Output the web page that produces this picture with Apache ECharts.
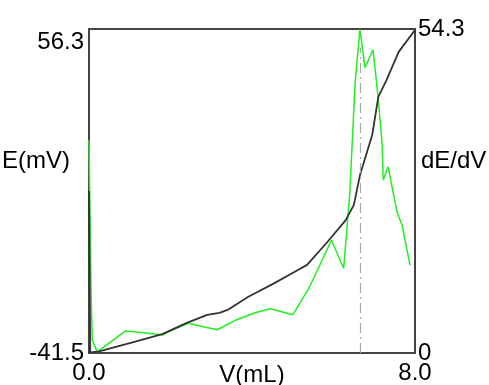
<!DOCTYPE html>
<html>
<head>
<meta charset="utf-8">
<script src="https://cdn.jsdelivr.net/npm/echarts@6/dist/echarts.min.js"></script>
<style>
  html, body { margin: 0; padding: 0; background: #fff; }
  #chart { width: 489px; height: 385px; }
</style>
</head>
<body>
<div id="chart"></div>
<script>
// titration curve: E vs volume
const eVol = [0, 0.03, 0.25, 1.0, 1.8, 2.4, 2.9, 3.2, 3.4, 3.9, 4.55, 5.05, 5.35, 5.85, 6.3, 6.5, 6.65, 6.95, 7.1, 7.3, 7.6, 8.0];
const eVal = [7.4, -41.3, -41.0, -38.5, -35.8, -32.4, -30.0, -29.4, -28.5, -24.6, -20.4, -17.0, -14.9, -8.0, -1.4, 3.2, 12.2, 24.3, 35.8, 40.9, 49.4, 56.0];

// first derivative dE/dV
const dVol = [0, 0.05, 0.08, 0.2, 0.9, 1.35, 1.8, 2.0, 2.45, 2.75, 3.15, 3.6, 4.05, 4.45, 5.0, 5.4, 5.95, 6.25, 6.4, 6.53, 6.65, 6.77, 6.97, 7.09, 7.19, 7.22, 7.34, 7.44, 7.56, 7.68, 7.88];
const dVal = [35.7, 10.6, 2.2, 0.2, 3.7, 3.4, 3.0, 3.7, 5.0, 4.5, 3.9, 5.5, 6.7, 7.4, 6.4, 10.9, 18.9, 14.2, 26.8, 45.2, 54.3, 47.8, 50.8, 43.2, 35.4, 29.0, 31.2, 27.7, 23.6, 21.5, 14.7];

// axis ranges
const xRange = [0, 8];
const eRange = [-41.5, 56.3];
const dRange = [0, 54.3];

// equivalence point marker
const eqVol = 6.65;
const eqTop = 51.1;

const font = { fontFamily: 'Liberation Sans, Arial, sans-serif', fontSize: 24, color: '#000' };

const chart = echarts.init(document.getElementById('chart'));

chart.setOption({
  animation: false,
  grid: {
    left: 89, top: 29, width: 326, height: 324,
    outerBoundsMode: 'none', containLabel: false,
    show: true, borderColor: '#444', borderWidth: 2, backgroundColor: 'transparent'
  },
  xAxis: {
    type: 'value',
    min: xRange[0], max: xRange[1], interval: xRange[1] - xRange[0],
    name: 'V(mL)', nameLocation: 'middle', nameGap: 10, nameMoveOverlap: false,
    nameTextStyle: Object.assign({}, font, { lineHeight: 24 }),
    axisLine: { show: false },
    axisTick: { show: false },
    splitLine: { show: false },
    axisLabel: Object.assign({}, font, {
      margin: 8, lineHeight: 24,
      formatter: v => v.toFixed(1)
    })
  },
  yAxis: [
    {
      type: 'value',
      min: eRange[0], max: eRange[1], interval: eRange[1] - eRange[0],
      name: 'E(mV)', nameLocation: 'middle', nameRotate: 0, nameGap: 19, nameMoveOverlap: false,
      nameTextStyle: Object.assign({}, font, { verticalAlign: 'bottom', lineHeight: 60 }),
      axisLine: { show: false },
      axisTick: { show: false },
      splitLine: { show: false },
      axisLabel: Object.assign({}, font, {
        margin: 5,
        formatter: v => v > 0 ? '{t|' + v.toFixed(1) + '}' : v.toFixed(1),
        rich: { t: Object.assign({}, font, { padding: [26, 0, 0, 0] }) }
      })
    },
    {
      type: 'value',
      min: dRange[0], max: dRange[1], interval: dRange[1] - dRange[0],
      name: 'dE/dV', nameLocation: 'middle', nameRotate: 0, nameGap: 6, nameMoveOverlap: false,
      nameTextStyle: Object.assign({}, font, { verticalAlign: 'bottom', lineHeight: 60 }),
      axisLine: { show: false },
      axisTick: { show: false },
      splitLine: { show: false },
      axisLabel: Object.assign({}, font, {
        margin: 3,
        formatter: v => v === 0 ? '0' : v.toFixed(1)
      })
    }
  ],
  series: [
    {
      name: 'dE/dV',
      type: 'line',
      yAxisIndex: 1,
      data: dVol.map((v, i) => [v, dVal[i]]),
      showSymbol: false,
      lineStyle: { color: '#22ee22', width: 1.5 },
      markLine: {
        silent: true,
        symbol: ['none', 'none'],
        label: { show: false },
        lineStyle: { color: '#aaa', width: 1.2, type: [10, 4, 2, 4] },
        data: [[{ coord: [eqVol, 0] }, { coord: [eqVol, eqTop] }]]
      }
    },
    {
      name: 'E',
      type: 'line',
      yAxisIndex: 0,
      data: eVol.map((v, i) => [v, eVal[i]]),
      showSymbol: false,
      lineStyle: { color: '#333', width: 1.8 }
    }
  ]
});
</script>
</body>
</html>
